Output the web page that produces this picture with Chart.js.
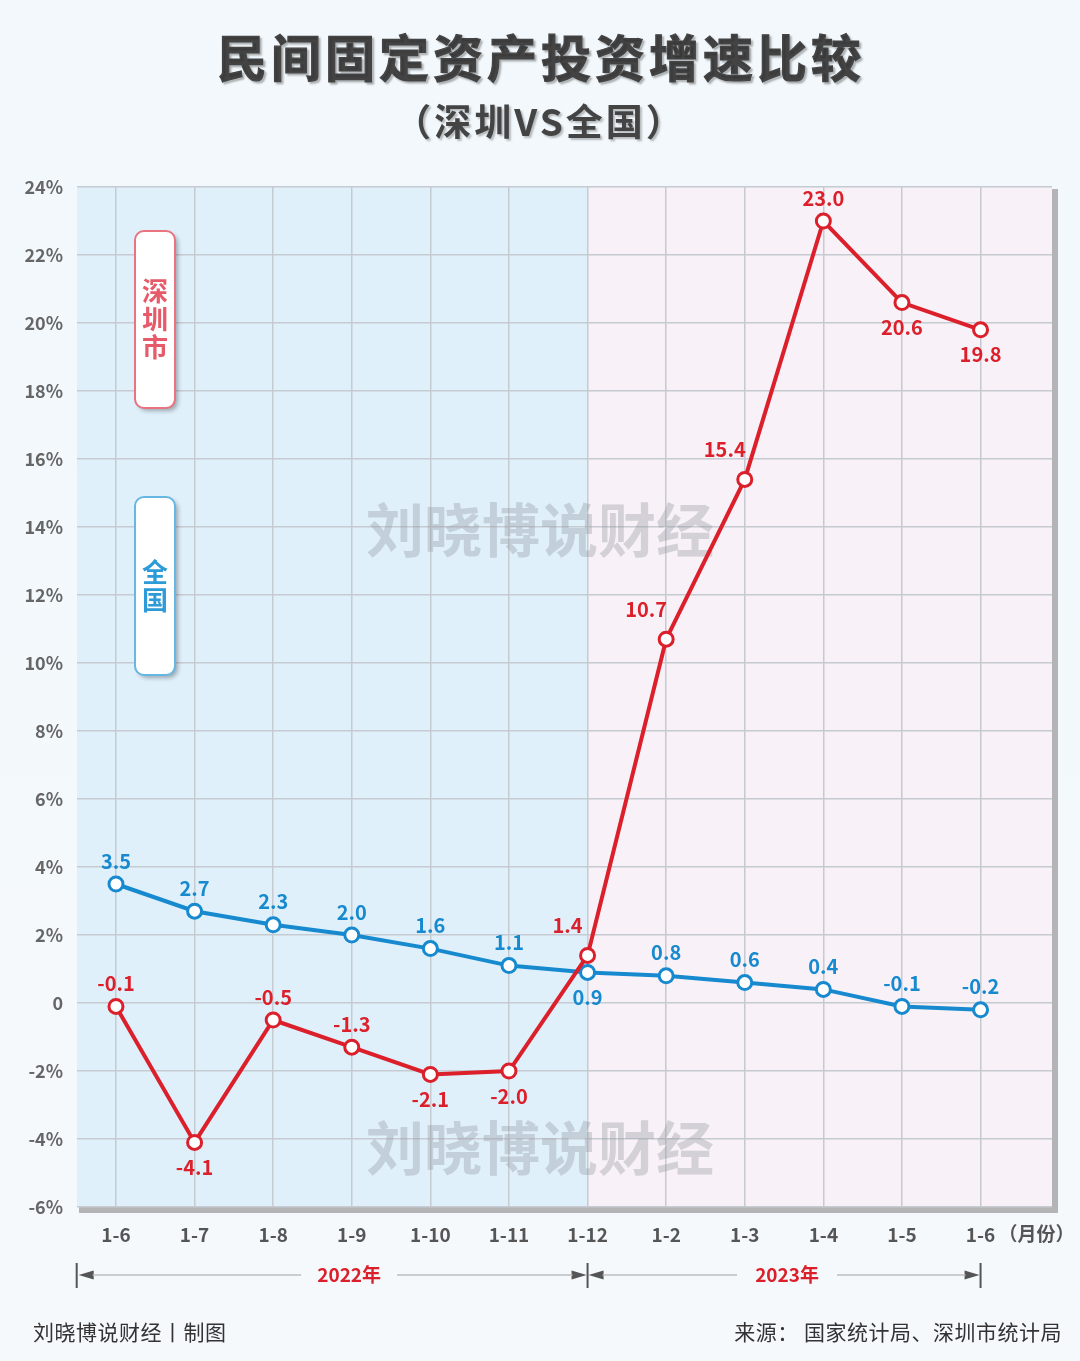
<!DOCTYPE html>
<html>
<head>
<meta charset="utf-8">
<script src="https://cdn.jsdelivr.net/npm/chart.js@4.4.0/dist/chart.umd.min.js"></script>
<style>
  html, body { margin: 0; padding: 0; background: #f3f8fc; }
  #wrap { width: 1080px; height: 1361px; }
</style>
</head>
<body>
<div id="wrap"><canvas id="chart" width="1080" height="1361"></canvas></div>
<script>
// data
var CATEGORIES = ['1-6', '1-7', '1-8', '1-9', '1-10', '1-11', '1-12', '1-2', '1-3', '1-4', '1-5', '1-6'];
var SHENZHEN = [-0.1, -4.1, -0.5, -1.3, -2.1, -2.0, 1.4, 10.7, 15.4, 23.0, 20.6, 19.8];
var NATIONAL = [3.5, 2.7, 2.3, 2.0, 1.6, 1.1, 0.9, 0.8, 0.6, 0.4, -0.1, -0.2];
var Y_TICKS = [-6, -4, -2, 0, 2, 4, 6, 8, 10, 12, 14, 16, 18, 20, 22, 24];
var YEARS = ['2022年', '2023年'];
var SPLIT_INDEX = 6; // 1-12 is where 2023 starts

// where each value label sits relative to its point
var SZ_LABEL_POS = ['up', 'down', 'up', 'up', 'down', 'down', 'upleft', 'upleft', 'upleft', 'up', 'down', 'down'];
var NAT_LABEL_POS = ['up', 'up', 'up', 'up', 'up', 'up', 'down', 'up', 'up', 'up', 'up', 'up'];

var RED = '#dc202b';
var BLUE = '#1689cf';
var FONT = '"Noto Sans CJK SC", "Noto Sans", sans-serif';

function toPoints(arr) {
  return arr.map(function (v, i) { return { x: i, y: v }; });
}

var decorPlugin = {
  id: 'decor',
  beforeDraw: function (chart) {
    var ctx = chart.ctx, a = chart.chartArea, x = chart.scales.x;
    ctx.save();
    var g = ctx.createLinearGradient(0, 0, 0, chart.height);
    g.addColorStop(0, '#f2f8fc');
    g.addColorStop(1, '#f5f9fc');
    ctx.fillStyle = g;
    ctx.fillRect(0, 0, chart.width, chart.height);

    // shadow on the right and bottom of the plot
    ctx.fillStyle = '#b4b4b6';
    ctx.fillRect(a.right, a.top + 2, 6, a.bottom - a.top + 4);
    ctx.fillRect(a.left + 2, a.bottom, a.right - a.left + 4, 6);

    var split = x.getPixelForValue(SPLIT_INDEX);
    ctx.fillStyle = '#dff0fb';
    ctx.fillRect(a.left, a.top, split - a.left, a.bottom - a.top);
    ctx.fillStyle = '#f8f1f7';
    ctx.fillRect(split, a.top, a.right - split, a.bottom - a.top);

    // title
    ctx.fillStyle = '#444';
    ctx.strokeStyle = '#444';
    ctx.lineWidth = 1.2;
    ctx.textAlign = 'center';
    ctx.textBaseline = 'middle';
    ctx.shadowColor = 'rgba(0,0,0,0.25)';
    ctx.shadowOffsetX = 2;
    ctx.shadowOffsetY = 2;
    ctx.shadowBlur = 2;
    ctx.font = 'bold 50px ' + FONT;
    ctx.letterSpacing = '4px';
    ctx.fillText('民间固定资产投资增速比较', 541, 58);
    ctx.strokeText('民间固定资产投资增速比较', 541, 58);
    ctx.letterSpacing = '3px';
    ctx.font = 'bold 37px ' + FONT;
    ctx.fillText('（深圳VS全国）', 540, 122);
    ctx.letterSpacing = '0px';
    ctx.restore();
  },
  beforeDatasetsDraw: function (chart) {
    var ctx = chart.ctx;
    ctx.save();
    // watermarks
    ctx.fillStyle = 'rgba(150,155,162,0.38)';
    ctx.font = 'bold 58px ' + FONT;
    ctx.textAlign = 'center';
    ctx.textBaseline = 'middle';
    ctx.fillText('刘晓博说财经', 540, 530);
    ctx.fillText('刘晓博说财经', 540, 1148);

    // legend boxes
    function box(y0, y1, stroke, color, chars, ys) {
      ctx.save();
      ctx.shadowColor = 'rgba(0,0,0,0.3)';
      ctx.shadowOffsetX = 3;
      ctx.shadowOffsetY = 3;
      ctx.shadowBlur = 4;
      ctx.beginPath();
      ctx.roundRect(135, y0, 40, y1 - y0, 9);
      ctx.fillStyle = '#fff';
      ctx.fill();
      ctx.restore();
      ctx.beginPath();
      ctx.roundRect(135, y0, 40, y1 - y0, 9);
      ctx.lineWidth = 2;
      ctx.strokeStyle = stroke;
      ctx.stroke();
      ctx.fillStyle = color;
      ctx.font = 'bold 26px ' + FONT;
      chars.forEach(function (c, i) { ctx.fillText(c, 155, ys[i]); });
    }
    box(231, 408, '#e9737f', '#e65a69', ['深', '圳', '市'], [291, 319, 347]);
    box(497, 675, '#66b7e2', '#2c9bd8', ['全', '国'], [572, 600]);
    ctx.restore();
  },
  afterDatasetsDraw: function (chart) {
    var ctx = chart.ctx, a = chart.chartArea;
    var xs = chart.scales.x, ys = chart.scales.y;
    ctx.save();
    ctx.font = 'bold 20px ' + FONT;
    ctx.textAlign = 'center';
    ctx.textBaseline = 'middle';

    function labels(data, pos, color) {
      ctx.fillStyle = color;
      data.forEach(function (v, i) {
        var px = xs.getPixelForValue(i), py = ys.getPixelForValue(v);
        var dx = 0, dy = -23;
        if (pos[i] === 'down') dy = 25;
        if (pos[i] === 'upleft') { dx = -20; dy = -30; }
        ctx.fillText(v.toFixed(1), px + dx, py + dy);
      });
    }
    labels(SHENZHEN, SZ_LABEL_POS, RED);
    labels(NATIONAL, NAT_LABEL_POS, BLUE);

    // month unit after the last tick
    ctx.fillStyle = '#555';
    ctx.textAlign = 'left';
    ctx.font = 'bold 19px ' + FONT;
    ctx.fillText('（月份）', xs.getPixelForValue(CATEGORIES.length - 1) + 18, 1234);

    // year brackets
    var y = 1275;
    var xl = xs.getPixelForValue(-0.5), xm = xs.getPixelForValue(SPLIT_INDEX), xr = xs.getPixelForValue(CATEGORIES.length - 1);
    function bar(x) {
      ctx.fillStyle = '#555';
      ctx.fillRect(x - 1, y - 12, 2, 25);
    }
    function tri(tip, dir) {
      ctx.fillStyle = '#555';
      ctx.beginPath();
      ctx.moveTo(tip, y);
      ctx.lineTo(tip + dir * 15, y - 4.5);
      ctx.lineTo(tip + dir * 15, y + 4.5);
      ctx.closePath();
      ctx.fill();
    }
    function line(x0, x1) {
      ctx.strokeStyle = '#bcbcbc';
      ctx.lineWidth = 1.5;
      ctx.beginPath();
      ctx.moveTo(x0, y);
      ctx.lineTo(x1, y);
      ctx.stroke();
    }
    bar(xl); tri(xl + 2, 1);
    bar(xm); tri(xm - 1, -1); tri(xm + 1, 1);
    bar(xr); tri(xr - 1, -1);
    var c1 = (xl + xm) / 2 + 17, c2 = (xm + xr) / 2 + 3;
    line(xl + 16, c1 - 48); line(c1 + 48, xm - 15);
    line(xm + 15, c2 - 50); line(c2 + 50, xr - 15);
    ctx.fillStyle = RED;
    ctx.textAlign = 'center';
    ctx.font = 'bold 19px ' + FONT;
    ctx.fillText(YEARS[0], c1, y);
    ctx.fillText(YEARS[1], c2, y);

    // footer
    ctx.fillStyle = '#333';
    ctx.font = '21px ' + FONT;
    ctx.letterSpacing = '0.5px';
    ctx.textAlign = 'left';
    ctx.fillText('刘晓博说财经丨制图', 33, 1332);
    ctx.textAlign = 'right';
    ctx.fillText('来源： 国家统计局、深圳市统计局', 1062, 1332);
    ctx.letterSpacing = '0px';
    ctx.restore();
  }
};

new Chart(document.getElementById('chart').getContext('2d'), {
  type: 'line',
  data: {
    datasets: [{
      label: '深圳市',
      data: toPoints(SHENZHEN),
      borderColor: RED,
      borderWidth: 4,
      pointRadius: 7,
      pointBorderWidth: 3,
      pointBackgroundColor: '#fff',
      pointBorderColor: RED,
      tension: 0
    }, {
      label: '全国',
      data: toPoints(NATIONAL),
      borderColor: BLUE,
      borderWidth: 4,
      pointRadius: 7,
      pointBorderWidth: 3,
      pointBackgroundColor: '#fff',
      pointBorderColor: BLUE,
      tension: 0
    }]
  },
  options: {
    responsive: false,
    animation: false,
    layout: { padding: { top: 187, right: 28, left: 0, bottom: 0 } },
    plugins: {
      legend: { display: false },
      tooltip: { enabled: false },
      title: { display: false }
    },
    scales: {
      x: {
        type: 'linear',
        min: -0.496,
        max: 11.909,
        afterFit: function (s) { s.height = 154; },
        afterBuildTicks: function (s) {
          s.ticks = CATEGORIES.map(function (c, i) { return { value: i }; });
        },
        grid: { color: '#c6cad1', lineWidth: 1.5, drawTicks: false },
        border: { display: false },
        ticks: {
          padding: 16,
          color: '#555',
          font: { family: FONT, size: 19, weight: 'bold' },
          callback: function (v) { return CATEGORIES[v]; }
        }
      },
      y: {
        min: -6,
        max: 24,
        afterFit: function (s) { s.width = 77; },
        afterBuildTicks: function (s) {
          s.ticks = Y_TICKS.map(function (v) { return { value: v }; });
        },
        grid: { color: '#c6cad1', lineWidth: 1.5, drawTicks: false },
        border: { display: false },
        ticks: {
          padding: 14,
          color: '#666',
          font: { family: FONT, size: 18, weight: 'bold' },
          callback: function (v) { return v === 0 ? '0' : v + '%'; }
        }
      }
    }
  },
  plugins: [decorPlugin]
});
</script>
</body>
</html>
